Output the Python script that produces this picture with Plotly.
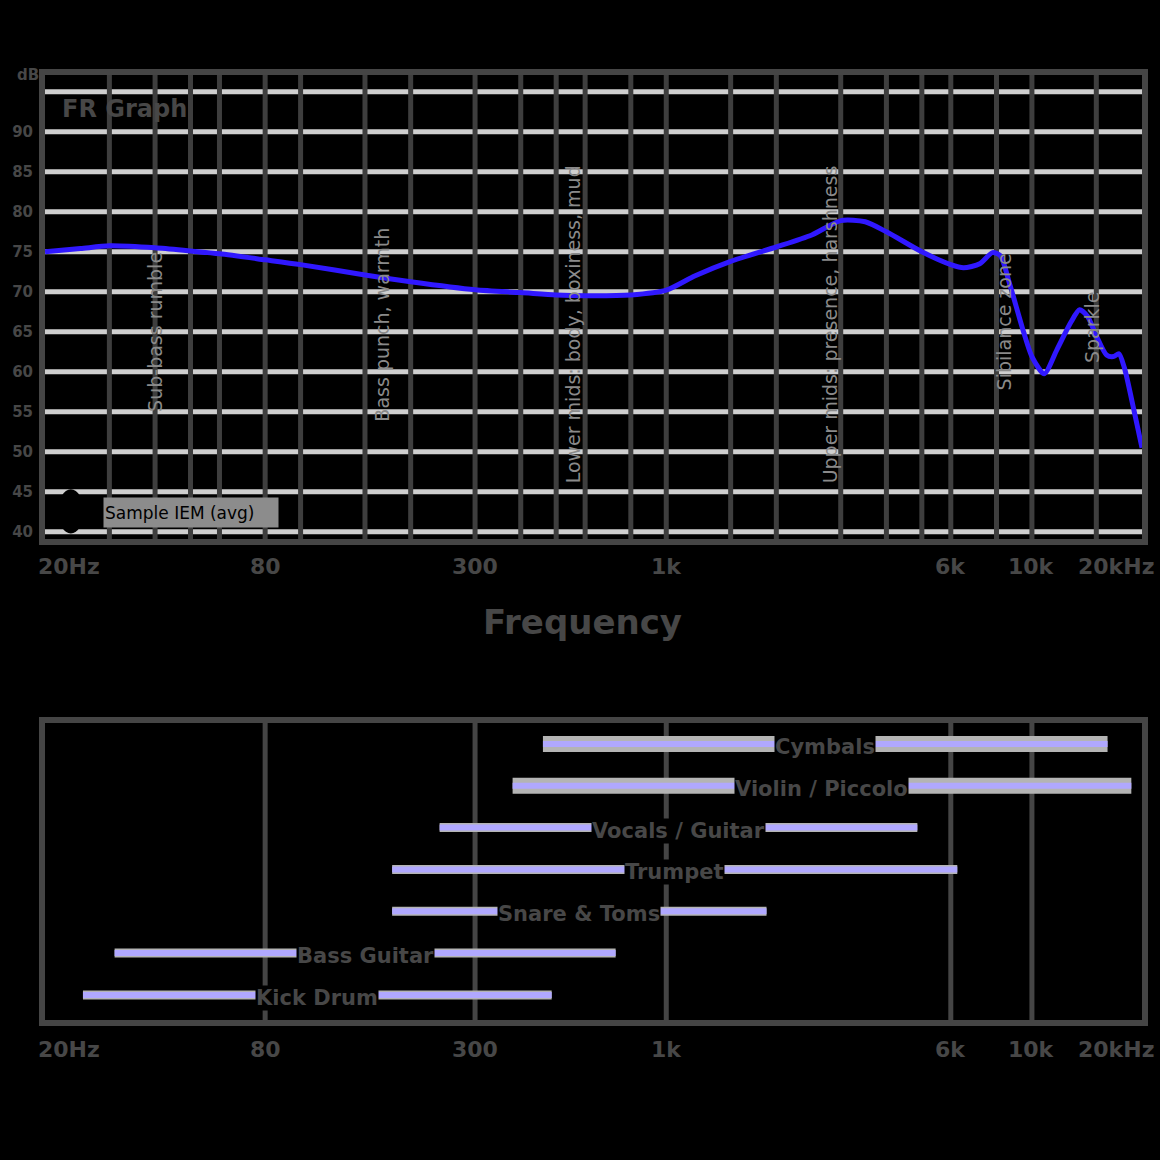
import numpy as np
import plotly.graph_objects as go

# ---------------- data ----------------
fr_hz = [20, 25, 30, 40, 50, 60, 80, 100, 150, 200, 300, 400, 500, 600, 800, 1000,
         1200, 1500, 2000, 2500, 3000, 3500, 4000, 5000, 6000, 6500, 7200, 7800, 8200,
         8700, 9500, 10000, 10800, 11700, 12800, 13500, 14200, 15000, 16000, 16700,
         17300, 17900, 19000, 20000]
fr_db = [75.0, 75.4, 75.75, 75.5, 75.1, 74.75, 74.0, 73.4, 72.1, 71.25, 70.25, 69.9,
         69.6, 69.5, 69.6, 70.2, 72.0, 73.8, 75.6, 77.1, 78.9, 78.75, 77.5, 75.0, 73.4,
         73.0, 73.5, 74.9, 74.5, 70.9, 64.9, 61.9, 59.75, 62.75, 66.25, 67.75, 66.9,
         64.5, 62.1, 61.9, 62.25, 60.5, 55.25, 50.5]

grid_hz = [30, 40, 50, 60, 80, 100, 150, 200, 300, 400, 500, 600, 800, 1000, 1500,
           2000, 3000, 4000, 5000, 6000, 8000, 10000, 15000]
tick_hz = [20, 80, 300, 1000, 6000, 10000, 20000]
tick_text = ["20Hz", "80", "300", "1k", "6k", "10k", "20kHz"]
y_ticks = [40, 45, 50, 55, 60, 65, 70, 75, 80, 85, 90, 95]
y_text = ["40", "45", "50", "55", "60", "65", "70", "75", "80", "85", "90", ""]

zone_text = ["Sub-bass rumble", "Bass punch, warmth", "Lower mids: body, boxiness, mud",
             "Upper mids: presence, harshness", "Sibilance zone", "Sparkle"]
zone_hz = [40, 167, 555, 2800, 8400, 14600]
zone_db = [65.0, 65.9, 65.9, 65.9, 66.2, 65.6]

inst_names = ["Cymbals", "Violin / Piccolo", "Vocals / Guitar", "Trumpet",
              "Snare & Toms", "Bass Guitar", "Kick Drum"]
inst_lo = [460, 380, 240, 178, 178, 31, 25.4]
inst_hi = [16100, 18700, 4860, 6250, 1880, 727, 486]
highlighted = ["Cymbals", "Violin / Piccolo"]
bottom_grid_hz = [80, 300, 1000, 6000, 10000]

legend_text = "Sample IEM (avg)"
title_text = "FR Graph"

# ---------------- style ----------------
TXT = "#474747"
BORDER = "#454545"
FONT = "DejaVu Sans"

fig = go.Figure()

fig.add_trace(go.Scatter(
    x=fr_hz, y=fr_db, mode="lines", xaxis="x", yaxis="y",
    line=dict(color="#3018ff", width=5, shape="spline", smoothing=0.7),
    hoverinfo="skip", showlegend=False))

annotations = []
shapes = []

for n, lo, hi in zip(inst_names, inst_lo, inst_hi):
    w = 16 if n in highlighted else 9
    fig.add_trace(go.Scatter(x=[lo, hi], y=[n, n], mode="lines", xaxis="x2", yaxis="y2",
                             line=dict(color="#b4b4b4", width=w), hoverinfo="skip",
                             showlegend=False))
    fig.add_trace(go.Scatter(x=[lo, hi], y=[n, n], mode="lines", xaxis="x2", yaxis="y2",
                             line=dict(color="#b0a8ff", width=6), hoverinfo="skip",
                             showlegend=False))
    annotations.append(dict(
        x=float(np.log10(np.sqrt(lo * hi))), y=n, xref="x2", yref="y2", text=n,
        showarrow=False, bgcolor="black", borderpad=0, yshift=-3,
        font=dict(family=FONT, size=21, color=TXT, weight="bold")))

# horizontal grid lines (drawn first, below)
for v in y_ticks:
    shapes.append(dict(type="line", xref="x domain", yref="y", x0=0, x1=1, y0=v, y1=v,
                       layer="below", line=dict(color="#cfcfcf", width=5)))
# vertical grid lines (drawn after, so on top of horizontal ones)
for f in grid_hz:
    shapes.append(dict(type="line", xref="x", yref="y domain", x0=f, x1=f, y0=0, y1=1,
                       layer="below", line=dict(color="#3e3e3e", width=5)))
for f in bottom_grid_hz:
    shapes.append(dict(type="line", xref="x2", yref="y2 domain", x0=f, x1=f, y0=0, y1=1,
                       layer="below", line=dict(color=BORDER, width=5)))

# legend marker
shapes.append(dict(type="circle", xref="x domain", yref="y domain", x0=0.0118, x1=0.0353,
                   y0=0.012, y1=0.107, fillcolor="black", line=dict(width=0), layer="above"))

# zone labels
for t, f, d in zip(zone_text, zone_hz, zone_db):
    annotations.append(dict(x=float(np.log10(f)), y=d, xref="x", yref="y", text=t,
                            textangle=-90, showarrow=False,
                            font=dict(family=FONT, size=19, color="#8a8a8a")))

# x tick labels (both charts)
for i, (f, t) in enumerate(zip(tick_hz, tick_text)):
    if i == 0:
        anchor, shift = "left", -9
    elif i == len(tick_hz) - 1:
        anchor, shift = "right", 14
    else:
        anchor, shift = "center", 0
    for xr, yr, yy in (("x", "y domain", -0.0603), ("x2", "y2 domain", -0.101)):
        annotations.append(dict(x=float(np.log10(f)), y=yy, xref=xr, yref=yr, text=t,
                                showarrow=False, xanchor=anchor, xshift=shift,
                                yanchor="middle",
                                font=dict(family=FONT, size=22, color=TXT, weight="bold")))

annotations.append(dict(x=0.49, y=-0.179, xref="x domain", yref="y domain",
                        text="Frequency", showarrow=False, yanchor="middle",
                        font=dict(family=FONT, size=34, color=TXT, weight="bold")))
annotations.append(dict(x=0, y=1, xref="paper", yref="y domain", text="dB",
                        showarrow=False, xanchor="right", xshift=-4, yanchor="middle",
                        font=dict(family=FONT, size=15, color=TXT, weight="bold")))
annotations.append(dict(x=0.0136, y=0.927, xref="x domain", yref="y domain",
                        text=title_text, showarrow=False, xanchor="left", yanchor="middle",
                        font=dict(family=FONT, size=24, color=TXT, weight="bold")))
annotations.append(dict(x=0.0525, y=0.058, xref="x domain", yref="y domain",
                        text=legend_text, showarrow=False, xanchor="left", yanchor="middle",
                        bgcolor="#8c8c8c", width=172, height=27, align="left",
                        font=dict(family=FONT, size=17, color="black")))

axis_line = dict(showline=True, mirror=True, linecolor=BORDER, linewidth=6, zeroline=False)

fig.update_layout(
    width=1160, height=1160,
    margin=dict(l=42, r=14, t=75, b=140, pad=0),
    paper_bgcolor="black", plot_bgcolor="black",
    font=dict(family=FONT, color=TXT),
    showlegend=False,
    xaxis=dict(type="log", range=[np.log10(20), np.log10(20000)], domain=[0, 1],
               anchor="y", showgrid=False, showticklabels=False, ticks="", **axis_line),
    yaxis=dict(range=[39.1, 97.1], domain=[0.509, 1], anchor="x", tickvals=y_ticks,
               ticktext=y_text, showgrid=False, ticks="", ticklabelstandoff=3,
               tickfont=dict(family=FONT, size=15, color=TXT, weight="bold"), **axis_line),
    xaxis2=dict(type="log", range=[np.log10(20), np.log10(20000)], domain=[0, 1],
                anchor="y2", showgrid=False, showticklabels=False, ticks="", **axis_line),
    yaxis2=dict(type="category", categoryarray=inst_names, categoryorder="array",
                range=[6.6, -0.5], domain=[0, 0.3143], anchor="x2", showgrid=False,
                showticklabels=False, ticks="", **axis_line),
    annotations=annotations,
    shapes=shapes,
)

fig.write_html("out.html")
